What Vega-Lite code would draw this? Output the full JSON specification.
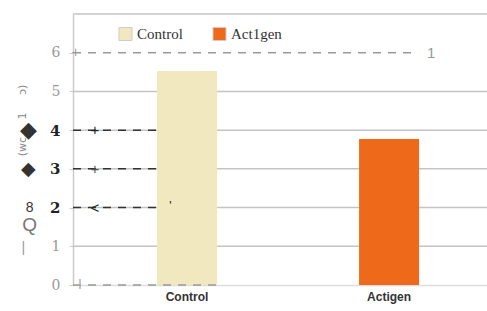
{
  "$schema": "https://vega.github.io/schema/vega-lite/v6.json",
  "width": 414,
  "height": 271,
  "autosize": {"type": "none"},
  "padding": {"left": 73, "top": 14, "right": 0, "bottom": 26},
  "background": "white",
  "config": {"view": {"stroke": null}},
  "datasets": {
    "bars": [
      {"group": "Control", "value": 5.53},
      {"group": "Actigen", "value": 3.77}
    ],
    "grid": [
      {"y": 1}, {"y": 2}, {"y": 3}, {"y": 4}, {"y": 5}, {"y": 7}
    ],
    "rules": [
      {"y": 6, "x": 0, "x2": 0.826},
      {"y": 4, "x": 0, "x2": 0.205},
      {"y": 3, "x": 0, "x2": 0.205},
      {"y": 2, "x": 0, "x2": 0.205},
      {"y": 0, "x": 0, "x2": 0.35}
    ],
    "marks": [
      {"y": 6, "x": 0.865, "t": "1", "c": "#999999", "s": 15, "w": "normal", "f": "DejaVu Sans Mono"},
      {"y": 6, "x": 0.006, "t": "+", "c": "#999999", "s": 14, "w": "normal", "f": "DejaVu Sans"},
      {"y": 4, "x": 0.053, "t": "+", "c": "#222222", "s": 15, "w": "bold", "f": "DejaVu Sans"},
      {"y": 3, "x": 0.053, "t": "+", "c": "#555555", "s": 15, "w": "bold", "f": "DejaVu Sans"},
      {"y": 2, "x": 0.053, "t": "<", "c": "#222222", "s": 15, "w": "normal", "f": "DejaVu Sans"},
      {"y": 2.05, "x": 0.235, "t": "'", "c": "#222222", "s": 12, "w": "bold", "f": "DejaVu Sans"},
      {"y": 0, "x": 0.017, "t": "I", "c": "#aaaaaa", "s": 14, "w": "normal", "f": "Liberation Serif"},
      {"y": 4, "x": -0.107, "t": "◆", "c": "#333333", "s": 22, "w": "normal", "f": "DejaVu Sans"},
      {"y": 3, "x": -0.107, "t": "◆", "c": "#333333", "s": 19, "w": "normal", "f": "DejaVu Sans"},
      {"y": 2, "x": -0.105, "t": "8", "c": "#333333", "s": 14, "w": "bold", "f": "DejaVu Serif"},
      {"y": 1.55, "x": -0.105, "t": "Q", "c": "#777777", "s": 19, "w": "bold", "f": "DejaVu Serif"},
      {"y": 0.95, "x": -0.12, "t": "|", "c": "#999999", "s": 14, "w": "normal", "f": "DejaVu Sans"}
    ],
    "rot": [
      {"y": 4.25, "x": -0.12, "t": "(wc\u00a0\u00a0\u00a0\u00a0\u00a01\u00a0\u00a0\u00a0\u00a0\u00a0ɔ)"}
    ]
  },
  "layer": [
    {
      "data": {"name": "grid"},
      "mark": {"type": "rule", "color": "#c4c4c4", "strokeWidth": 1.5},
      "encoding": {
        "y": {"field": "y", "type": "quantitative", "scale": {"domain": [0, 7], "nice": false}}
      }
    },
    {
      "data": {"name": "bars"},
      "mark": {"type": "bar"},
      "encoding": {
        "x": {
          "field": "group",
          "type": "nominal",
          "sort": ["Control", "Actigen"],
          "scale": {"paddingInner": 0.703, "paddingOuter": 0.376, "align": 0.553},
          "axis": {
            "title": null,
            "labelAngle": 0,
            "labelFont": "Liberation Sans",
            "labelFontWeight": "bold",
            "labelFontSize": 12,
            "labelColor": "#333333",
            "labelPadding": 6,
            "ticks": false,
            "domainColor": "#dddddd",
            "domainWidth": 1.5
          }
        },
        "y": {
          "field": "value",
          "type": "quantitative",
          "scale": {"domain": [0, 7], "nice": false},
          "axis": {
            "title": null,
            "values": [0, 1, 2, 3, 4, 5, 6],
            "labelOverlap": false,
            "labelFont": "DejaVu Serif",
            "labelFontSize": {"condition": {"test": "datum.value >= 2 && datum.value <= 4", "value": 15}, "value": 14},
            "labelFontWeight": {"condition": {"test": "datum.value >= 2 && datum.value <= 4", "value": "bold"}, "value": "normal"},
            "labelColor": {"condition": {"test": "datum.value >= 2 && datum.value <= 4", "value": "#222222"}, "value": "#999999"},
            "labelPadding": 9,
            "tickSize": 4,
            "tickColor": "#cccccc",
            "domainColor": "#cccccc",
            "domainWidth": 1.5,
            "grid": false
          }
        },
        "color": {
          "field": "group",
          "type": "nominal",
          "scale": {"domain": ["Control", "Actigen"], "range": ["#F1E8C0", "#EE6A1A"]},
          "legend": {
            "title": null,
            "orient": "none",
            "legendX": 45,
            "legendY": 12,
            "direction": "horizontal",
            "symbolType": "square",
            "symbolSize": 170,
            "symbolStrokeWidth": 1,
            "symbolStrokeColor": "#cccccc",
            "labelFont": "Liberation Serif",
            "labelFontSize": 15,
            "labelColor": "#333333",
            "columnPadding": 27,
            "labelOffset": 4,
            "labelExpr": "datum.label == 'Actigen' ? 'Act1gen' : datum.label"
          }
        }
      }
    },
    {
      "data": {"name": "rules"},
      "mark": {"type": "rule", "strokeDash": [8, 7], "strokeWidth": 1.5},
      "encoding": {
        "x": {"field": "x", "type": "quantitative", "scale": {"domain": [0, 1], "nice": false, "zero": false}, "axis": null},
        "x2": {"field": "x2"},
        "y": {"field": "y", "type": "quantitative"},
        "color": {
          "condition": {"test": "datum.y >= 2 && datum.y <= 4", "value": "#333333"},
          "value": "#999999"
        }
      }
    },
    {
      "data": {"name": "marks"},
      "mark": {"type": "text", "align": "center", "baseline": "middle", "clip": false},
      "encoding": {
        "x": {"field": "x", "type": "quantitative", "scale": {"domain": [0, 1], "nice": false, "zero": false}, "axis": null},
        "y": {"field": "y", "type": "quantitative"},
        "text": {"field": "t"},
        "color": {"field": "c", "type": "nominal", "scale": null},
        "size": {"field": "s", "type": "quantitative", "scale": null},
        "font": {"field": "f"},
        "fontWeight": {"field": "w"}
      }
    },
    {
      "data": {"name": "rot"},
      "mark": {"type": "text", "align": "center", "baseline": "middle", "angle": 270, "clip": false, "color": "#888888", "fontSize": 11, "font": "DejaVu Sans"},
      "encoding": {
        "x": {"field": "x", "type": "quantitative", "scale": {"domain": [0, 1], "nice": false, "zero": false}, "axis": null},
        "y": {"field": "y", "type": "quantitative"},
        "text": {"field": "t"}
      }
    }
  ],
  "resolve": {"scale": {"x": "independent"}}
}
